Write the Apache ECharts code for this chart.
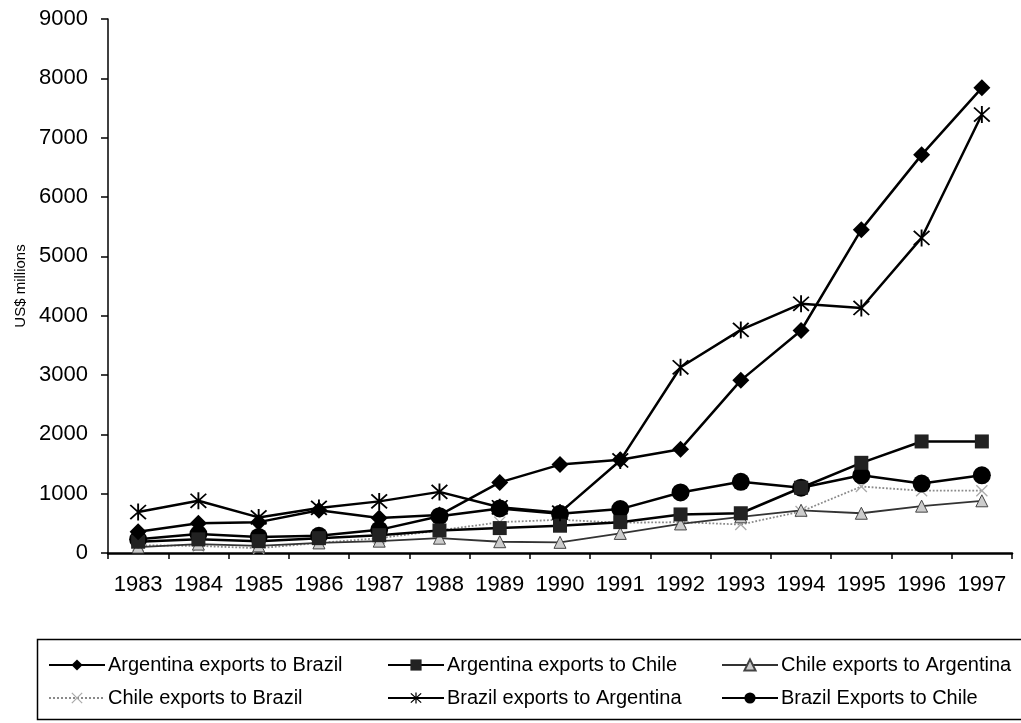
<!DOCTYPE html>
<html>
<head>
<meta charset="utf-8">
<title>Trade flows</title>
<script src="https://cdn.jsdelivr.net/npm/echarts@6/dist/echarts.min.js"></script>
<style>
	html, body { margin: 0; padding: 0; background: #fff; }
	#chart { width: 1021px; height: 723px; }
</style>
</head>
<body>
<div id="chart"></div>
<script>
// years on the x axis
var years = ['1983', '1984', '1985', '1986', '1987', '1988', '1989', '1990', '1991', '1992', '1993', '1994', '1995', '1996', '1997'];

// US$ millions
var argToBrazil   = [360, 500, 520, 720, 590, 640, 1190, 1490, 1570, 1750, 2910, 3750, 5450, 6710, 7840];
var argToChile    = [190, 230, 200, 250, 300, 380, 420, 460, 520, 650, 670, 1100, 1520, 1880, 1880];
var chileToArg    = [100, 150, 120, 170, 200, 250, 190, 180, 330, 490, 610, 720, 670, 790, 880];
var chileToBrazil = [130, 120, 80, 170, 250, 380, 520, 560, 510, 520, 480, 700, 1120, 1050, 1050];
var brazilToArg   = [690, 880, 600, 760, 870, 1030, 770, 680, 1560, 3130, 3760, 4200, 4130, 5310, 7390];
var brazilToChile = [230, 320, 270, 290, 390, 620, 750, 660, 740, 1020, 1200, 1100, 1310, 1170, 1310];

// asterisk (X + vertical bar) and plain X marker shapes
var starPath = 'path://M9,0L11,0L11,20L9,20Z M2.4,1L19,17.6L17.6,19L1,2.4Z M17.6,1L19,2.4L2.4,19L1,17.6Z';
var crossPath = 'path://M2.4,1L19,17.6L17.6,19L1,2.4Z M17.6,1L19,2.4L2.4,19L1,17.6Z';

var font = 'Liberation Sans, Arial, sans-serif';

var chart = echarts.init(document.getElementById('chart'));

function legendCol(left, names) {
	return {
		orient: 'vertical',
		left: left,
		top: 650,
		itemWidth: 56,
		itemHeight: 14,
		itemGap: 13,
		data: names,
		textStyle: { fontFamily: font, fontSize: 20, color: '#000', padding: [0, 0, 0, -2] }
	};
}

var option = {
	backgroundColor: '#fff',
	animation: false,
	grid: { left: 108, right: 9, top: 19, bottom: 170 },
	legend: [
		legendCol(43, ['Argentina exports to Brazil', 'Chile exports to Brazil']),
		legendCol(382, ['Argentina exports to Chile', 'Brazil exports to Argentina']),
		legendCol(716, ['Chile exports to Argentina', 'Brazil Exports to Chile'])
	],
	graphic: [{
		type: 'rect',
		left: 35, top: 637,
		shape: { width: 990, height: 80 },
		style: { fill: 'none', stroke: '#000', lineWidth: 1.5 },
		silent: true
	}],
	xAxis: {
		type: 'category',
		data: years,
		boundaryGap: true,
		axisLine: { lineStyle: { color: '#000', width: 2.5 } },
		axisTick: { show: true, interval: 0, length: 6, lineStyle: { color: '#000', width: 1.5 } },
		axisLabel: { interval: 0, margin: 21, fontFamily: font, fontSize: 22, color: '#000' },
		splitLine: { show: false }
	},
	yAxis: {
		type: 'value',
		min: 0, max: 9000, interval: 1000,
		name: 'US$ millions',
		nameLocation: 'middle',
		nameRotate: 90,
		nameGap: 80,
		nameTextStyle: { fontFamily: font, fontSize: 15, color: '#000' },
		axisLine: { show: true, lineStyle: { color: '#000', width: 1.5 } },
		axisTick: { show: true, length: 7, lineStyle: { color: '#000', width: 1.5 } },
		axisLabel: {
			margin: 20, fontFamily: font, fontSize: 22, color: '#000',
			formatter: function (v) { return String(v); }
		},
		splitLine: { show: false }
	},
	series: [
		{
			name: 'Argentina exports to Brazil', type: 'line', data: argToBrazil,
			symbol: 'diamond', symbolSize: 17, z: 6,
			lineStyle: { color: '#000', width: 2.5 },
			itemStyle: { color: '#000' }
		},
		{
			name: 'Argentina exports to Chile', type: 'line', data: argToChile,
			symbol: 'rect', symbolSize: 14, z: 5,
			lineStyle: { color: '#000', width: 2.5 },
			itemStyle: { color: '#222' }
		},
		{
			name: 'Chile exports to Argentina', type: 'line', data: chileToArg,
			symbol: 'triangle', symbolSize: 12, z: 3,
			lineStyle: { color: '#333', width: 1.8 },
			itemStyle: { color: '#ccc', borderColor: '#444', borderWidth: 1 }
		},
		{
			name: 'Chile exports to Brazil', type: 'line', data: chileToBrazil,
			symbol: crossPath, symbolSize: 12, z: 2,
			lineStyle: { color: '#8a8a8a', width: 1.8, type: 'dotted' },
			itemStyle: { color: '#aaa' }
		},
		{
			name: 'Brazil exports to Argentina', type: 'line', data: brazilToArg,
			symbol: starPath, symbolSize: 17, z: 7,
			lineStyle: { color: '#000', width: 2.5 },
			itemStyle: { color: '#000' }
		},
		{
			name: 'Brazil Exports to Chile', type: 'line', data: brazilToChile,
			symbol: 'circle', symbolSize: 18, z: 4,
			lineStyle: { color: '#000', width: 2.5 },
			itemStyle: { color: '#000' }
		}
	]
};

chart.setOption(option);
</script>
</body>
</html>
